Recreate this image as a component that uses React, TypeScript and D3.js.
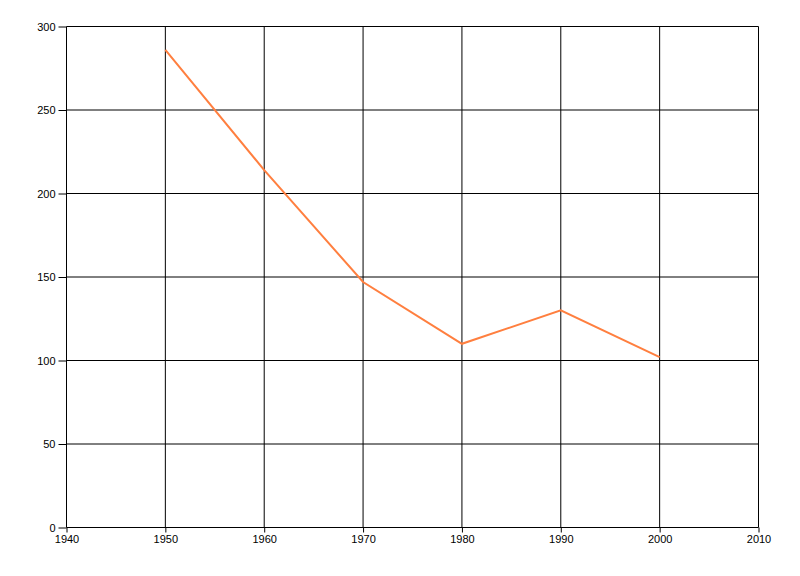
import React, { useEffect, useRef } from "react";
import * as d3 from "d3";

const years = [1950, 1960, 1970, 1980, 1990, 2000];
const values = [286, 214, 147, 110, 130, 102];
const xTicks = [1940, 1950, 1960, 1970, 1980, 1990, 2000, 2010];
const yTicks = [0, 50, 100, 150, 200, 250, 300];

export default function App() {
  const ref = useRef<SVGSVGElement>(null);

  useEffect(() => {
    if (!ref.current) return;
    const svg = d3.select(ref.current);
    svg.selectAll("*").remove();

    const x = d3.scaleLinear().domain([1940, 2010]).range([66.5, 758.5]);
    const y = d3.scaleLinear().domain([0, 300]).range([527.5, 26.5]);

    // grid
    const grid = svg.append("g").attr("stroke", "#000").attr("stroke-width", 1);
    grid
      .selectAll(".vx")
      .data(xTicks)
      .enter()
      .append("line")
      .attr("x1", (d) => x(d))
      .attr("x2", (d) => x(d))
      .attr("y1", y(300))
      .attr("y2", y(0));
    grid
      .selectAll(".hy")
      .data(yTicks)
      .enter()
      .append("line")
      .attr("x1", x(1940))
      .attr("x2", x(2010))
      .attr("y1", (d) => y(d))
      .attr("y2", (d) => y(d));

    // axes
    const xAxis = svg
      .append("g")
      .attr("transform", `translate(0,${y(0)})`)
      .call(
        d3
          .axisBottom(x)
          .tickValues(xTicks)
          .tickFormat(d3.format("d"))
          .tickSize(5)
          .tickPadding(3)
      );
    const yAxis = svg
      .append("g")
      .attr("transform", `translate(${x(1940)},0)`)
      .call(
        d3
          .axisLeft(y)
          .tickValues(yTicks)
          .tickFormat(d3.format("d"))
          .tickSize(8)
          .tickPadding(3)
      );
    [xAxis, yAxis].forEach((a) => {
      a.select(".domain").remove();
      a.selectAll("line").attr("stroke", "#000");
      a.selectAll("text")
        .attr("fill", "#000")
        .style("font-family", "'Liberation Sans', Arial, sans-serif")
        .style("font-size", "11px");
    });

    // series
    const line = d3
      .line<number>()
      .x((_, i) => x(years[i]))
      .y((d) => y(d));
    svg
      .append("path")
      .datum(values)
      .attr("fill", "none")
      .attr("stroke", "#ff7f3f")
      .attr("stroke-width", 2)
      .attr("d", line);
  }, []);

  return (
    <svg
      ref={ref}
      width={800}
      height={576}
      style={{ position: "absolute", left: 0, top: 0, background: "#fff" }}
    />
  );
}
